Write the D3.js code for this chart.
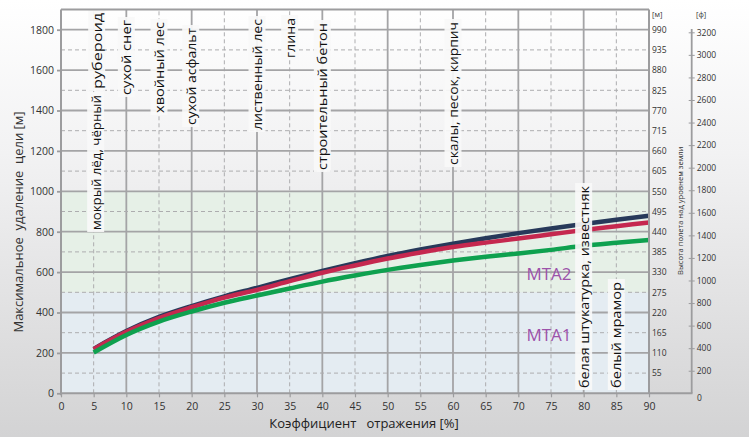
<!DOCTYPE html>
<html>
<head>
<meta charset="utf-8">
<script src="https://cdn.jsdelivr.net/npm/d3@7/dist/d3.min.js"></script>
<style>
  body { margin: 0; background: #fff; }
  svg { display: block; }
  text { font-family: "Open Sans", "Noto Sans", sans-serif; }
</style>
</head>
<body>
<svg id="chart" width="749" height="437"></svg>
<script>
// Reflection coefficient [%] and maximum target range [m] for each series
const reflect     = [5, 10, 15, 20, 25, 30, 35, 40, 45, 50, 55, 60, 65, 70, 75, 80, 85, 90];
const rangeNavy   = [220, 308, 378, 432, 480, 522, 565, 606, 644, 680, 712, 741, 768, 793, 816, 838, 859, 879];
const rangeRed    = [218, 304, 372, 426, 474, 512, 555, 597, 633, 667, 697, 724, 746, 766, 787, 808, 827, 846];
const rangeGreen  = [202, 289, 355, 405, 448, 484, 519, 553, 583, 611, 635, 657, 676, 692, 710, 730, 745, 759];

// Axis ticks
const xTickValues     = [0, 5, 10, 15, 20, 25, 30, 35, 40, 45, 50, 55, 60, 65, 70, 75, 80, 85, 90];
const yTickValues     = [0, 200, 400, 600, 800, 1000, 1200, 1400, 1600, 1800];
const meterTickValues = [55, 110, 165, 220, 275, 330, 385, 440, 495, 550, 605, 660, 715, 770, 825, 880, 935, 990];
const feetTickValues  = [200, 400, 600, 800, 1000, 1200, 1400, 1600, 1800, 2000, 2200, 2400, 2600, 2800, 3000, 3200];

// Surface materials and their reflection coefficient
const materialNames = ["мокрый лёд, чёрный", "рубероид", "сухой снег", "хвойный лес", "сухой асфальт",
                       "лиственный лес", "глина", "строительный бетон", "скалы, песок, кирпич",
                       "белая штукатурка, известняк", "белый мрамор"];
const materialReflect = [5, 5, 10, 15, 20, 30, 35, 40, 60, 80, 85];

// Range zones
const zoneNames = ["MTA1", "MTA2"];
const zoneLimits = [[0, 500], [500, 1000]];

// ---- layout ----
const W = 749, H = 437;
const svg = d3.select("#chart");
const fmt = d3.format("d");

const x = d3.scaleLinear().domain([0, 90]).range([61, 649]);
const y = d3.scaleLinear().domain([0, 1900]).range([393.3, 9.5]);
const yMeter = d3.scaleLinear().domain([0, 1900 * 0.55]).range([393.3, 9.5]);
const yFeet = d3.scaleLinear().domain([0, 3200]).range([393.3, 32.3]);

// label placement along the plot height (top / bottom of the text, px)
const labelSpan = [[95, 230], [13, 89], [20, 95], [22, 113], [28, 125], [19, 130],
                   [18, 58], [23, 170], [22, 165], [186, 388], [282, 388]];
const labelShift = [2, 3, 0, 0, -1, 0, 0, 0, 0, 0, 0];

const defs = svg.append("defs");
const bg = defs.append("linearGradient").attr("id", "bg").attr("x1", 0).attr("y1", 0).attr("x2", 0).attr("y2", 1);
bg.append("stop").attr("offset", "0%").attr("stop-color", "#ffffff");
bg.append("stop").attr("offset", "35%").attr("stop-color", "#f2f2f3");
bg.append("stop").attr("offset", "100%").attr("stop-color", "#d3d3d4");

svg.append("rect").attr("width", W).attr("height", H).attr("fill", "url(#bg)");

// zone bands
const zoneColors = ["#e4ecf2", "#e6f0e7"];
svg.append("g").selectAll("rect").data(zoneLimits).join("rect")
  .attr("x", x(0)).attr("width", x(90) - x(0))
  .attr("y", d => y(d[1])).attr("height", d => y(d[0]) - y(d[1]))
  .attr("fill", (d, i) => zoneColors[i]);

// grid
const grid = svg.append("g");
const vLines = d3.range(5, 90, 5);
grid.selectAll("line.v").data(vLines).join("line")
  .attr("x1", d => x(d)).attr("x2", d => x(d))
  .attr("y1", y(0)).attr("y2", y(1900))
  .attr("stroke", d => d % 10 === 0 ? "#a4a4a6" : "#adadaf")
  .attr("stroke-width", d => d % 10 === 0 ? 1.8 : 1)
  .attr("stroke-dasharray", d => d % 10 === 0 ? null : "4,3");
const hLines = d3.range(100, 1900, 100);
grid.selectAll("line.h").data(hLines).join("line")
  .attr("x1", x(0)).attr("x2", x(90))
  .attr("y1", d => y(d)).attr("y2", d => y(d))
  .attr("stroke", d => d % 200 === 0 ? "#a4a4a6" : "#adadaf")
  .attr("stroke-width", d => d % 200 === 0 ? 1.8 : 1)
  .attr("stroke-dasharray", d => d % 200 === 0 ? null : "4,3");

// curves
const line = d3.line().x(d => x(d[0])).y(d => y(d[1])).curve(d3.curveMonotoneX);
const series = [
  { values: rangeNavy, color: "#27395a" },
  { values: rangeRed, color: "#c5284f" },
  { values: rangeGreen, color: "#0ea14f" }
];
svg.append("g").selectAll("path").data(series).join("path")
  .attr("d", s => line(reflect.map((r, i) => [r, s.values[i]])))
  .attr("fill", "none").attr("stroke", s => s.color).attr("stroke-width", 4.5);

// zone names
const zoneLabelPos = [[549, 341], [549, 280]];
svg.append("g").selectAll("text").data(zoneNames).join("text")
  .attr("x", (d, i) => zoneLabelPos[i][0]).attr("y", (d, i) => zoneLabelPos[i][1])
  .attr("text-anchor", "middle").attr("font-size", 17).attr("fill", "#9c52aa")
  .text(d => d);

// material labels
const mats = svg.append("g");
materialNames.forEach((name, i) => {
  const cx = x(materialReflect[i]) + labelShift[i];
  const [top, bottom] = labelSpan[i];
  mats.append("rect")
    .attr("x", cx - 8.5).attr("width", 17)
    .attr("y", top - 3).attr("height", bottom - top + 5)
    .attr("fill", "#f9f9f9").attr("opacity", 0.92);
  mats.append("text")
    .attr("transform", `translate(${cx},${bottom}) rotate(-90)`)
    .attr("dy", "0.36em").attr("font-size", 13.5).attr("fill", "#111")
    .attr("textLength", bottom - top).attr("lengthAdjust", "spacingAndGlyphs")
    .text(name);
});

// frame
const frame = svg.append("g").attr("stroke", "#9c9c9e").attr("stroke-width", 2).attr("fill", "none");
frame.append("line").attr("x1", x(0)).attr("x2", x(90)).attr("y1", y(1900)).attr("y2", y(1900));
frame.append("line").attr("x1", x(0)).attr("x2", x(0)).attr("y1", y(1900)).attr("y2", y(0) + 2);
frame.append("line").attr("x1", x(90)).attr("x2", x(90)).attr("y1", y(1900)).attr("y2", y(0));
frame.append("line").attr("x1", x(0) - 1).attr("x2", 692.5).attr("y1", y(0)).attr("y2", y(0));

// left axis
const axL = svg.append("g").attr("transform", `translate(${x(0)},0)`)
  .call(d3.axisLeft(y).tickValues(yTickValues).tickFormat(fmt).tickSize(4).tickPadding(3));
axL.select(".domain").remove();
axL.selectAll("line").attr("stroke", "#9c9c9e").attr("stroke-width", 1.8);
axL.selectAll("text").attr("font-size", 10.5).attr("fill", "#333").attr("font-family", "Open Sans");

// bottom axis
const axB = svg.append("g").attr("transform", `translate(0,${y(0)})`)
  .call(d3.axisBottom(x).tickValues(xTickValues).tickFormat(fmt).tickSize(4).tickPadding(5));
axB.select(".domain").remove();
axB.selectAll("line").attr("stroke", "#9c9c9e").attr("stroke-width", 1.2);
axB.selectAll("text").attr("font-size", 10.5).attr("fill", "#333").attr("font-family", "Open Sans");

// right axis in metres
const axM = svg.append("g").attr("transform", `translate(${x(90)},0)`)
  .call(d3.axisRight(yMeter).tickValues(meterTickValues).tickFormat(fmt).tickSize(0).tickPadding(3));
axM.select(".domain").remove();
axM.selectAll("text").attr("font-size", 8.5).attr("fill", "#333").attr("font-family", "Open Sans");

// right axis in feet
const feetX = 691.7;
svg.append("line").attr("x1", feetX).attr("x2", feetX).attr("y1", 29).attr("y2", y(0))
  .attr("stroke", "#9c9c9e").attr("stroke-width", 1.8);
const axF = svg.append("g").attr("transform", `translate(${feetX},0)`)
  .call(d3.axisRight(yFeet).tickValues(feetTickValues).tickFormat(fmt).tickSize(3).tickPadding(2));
axF.select(".domain").remove();
axF.selectAll("line").attr("x1", -3).attr("stroke", "#9c9c9e").attr("stroke-width", 1);
axF.selectAll("text").attr("font-size", 8.5).attr("fill", "#333").attr("font-family", "Open Sans");
svg.append("text").attr("x", 697).attr("y", 401).attr("font-size", 8.5).attr("fill", "#333").text("0");

// unit headers
svg.append("text").attr("x", 652).attr("y", 17).attr("font-size", 7.5).attr("fill", "#333").text("[м]");
svg.append("text").attr("x", 696).attr("y", 17).attr("font-size", 7.5).attr("fill", "#333").text("[ф]");

// axis titles
svg.append("text")
  .attr("transform", "translate(680,275) rotate(-90)")
  .attr("dy", "0.35em").attr("font-size", 7.6).attr("fill", "#333")
  .text("Высота полета над уровнем земли");
svg.append("text")
  .attr("transform", "translate(18,222) rotate(-90)")
  .attr("dy", "0.35em").attr("text-anchor", "middle").attr("font-size", 13).attr("fill", "#333")
  .style("white-space", "pre")
  .text("Максимальное  удаление  цели [м]");
svg.append("text")
  .attr("x", 364).attr("y", 428).attr("text-anchor", "middle")
  .attr("font-size", 13).attr("fill", "#222").style("white-space", "pre")
  .text("Коэффициент   отражения [%]");
</script>
</body>
</html>
